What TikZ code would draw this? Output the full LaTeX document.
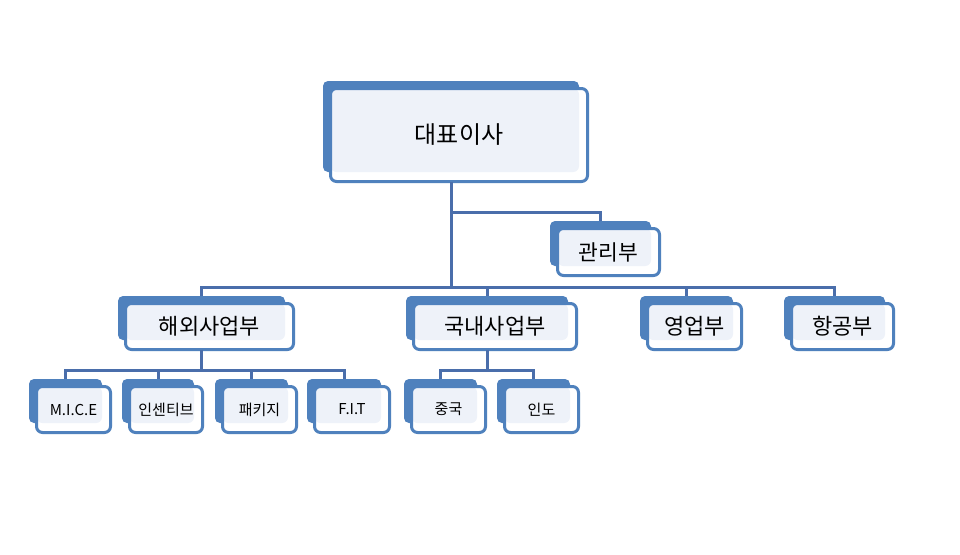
\documentclass[tikz,border=0pt]{standalone}
\usepackage{fontspec}
\setmainfont{Noto Sans CJK KR}
\usetikzlibrary{calc}
\definecolor{backblue}{HTML}{4F81BD}
\definecolor{frameblue}{HTML}{4F81BD}
\definecolor{innerfill}{HTML}{EEF2F9}
\definecolor{linecol}{HTML}{4A6EAB}
\tikzset{
  backbox/.style={fill=backblue, rounded corners=5pt, inner sep=0pt, outer sep=0pt},
  frontbox/.style={draw=frameblue, line width=3pt, fill=white, rounded corners=6pt,
    inner sep=0pt, outer sep=0pt, text=black},
  conn/.style={draw=linecol, line width=3pt},
}
% #1 name, #2 L, #3 T, #4 R, #5 B (front box, px), #6 font size, #7 text
\newcommand\orgbox[7]{%
  \node[backbox, minimum width={(#4-#2-4)*1pt}, minimum height={(#5-#3-5)*1pt}]
    (#1-b) at ({(#2+#4)/2-8},{(#3+#5)/2-8.5}) {};
  \node[frontbox, minimum width={(#4-#2-3)*1pt}, minimum height={(#5-#3-3)*1pt},
    path picture={\fill[innerfill] (path picture bounding box.north west) rectangle (#1-b.south east);},
    font=\fontsize{#6}{#6}\selectfont]
    (#1) at ({(#2+#4)/2},{(#3+#5)/2}) {#7};
}
\begin{document}
\begin{tikzpicture}[x=1pt,y=-1pt]
\useasboundingbox (0,0) rectangle (960,554);
\fill[white] (0,0) rectangle (960,554);
% boxes
\orgbox{ceo}{329}{87}{589}{183}{24}{대표이사}
\orgbox{gwan}{556}{227}{661}{277}{21.5}{관리부}
\orgbox{hae}{124}{302}{295}{351}{22}{해외사업부}
\orgbox{gn}{412}{302}{578}{351}{22}{국내사업부}
\orgbox{yeong}{646}{302}{743}{351}{22}{영업부}
\orgbox{hang}{790}{302}{895}{351}{22}{항공부}
\orgbox{mice}{35}{385}{112}{434}{15}{M.I.C.E}
\orgbox{insen}{128}{385}{204}{434}{15}{인센티브}
\orgbox{pkg}{221}{385}{298}{434}{15}{패키지}
\orgbox{fit}{313}{385}{391}{434}{15}{F.I.T}
\orgbox{jung}{410}{385}{487}{434}{15}{중국}
\orgbox{indo}{503}{385}{580}{434}{15}{인도}
% bus coordinates
\coordinate (busA) at (0,287);
\coordinate (busG) at (0,212);
\coordinate (busH) at (0,370);
% connectors
\draw[conn] (ceo-b.center |- ceo.south) -- (ceo-b.center |- busA);
\draw[conn] (ceo-b.center |- busG) -| (gwan-b.north);
\draw[conn] (hae-b.north) -- (hae-b.north |- busA) -| (hang-b.north);
\draw[conn] (gn-b.north |- busA) -- (gn-b.north);
\draw[conn] (yeong-b.north |- busA) -- (yeong-b.north);
\draw[conn] (hae-b.center |- hae.south) -- (hae-b.center |- busH);
\draw[conn] (mice-b.north) -- (mice-b.north |- busH) -| (fit-b.north);
\draw[conn] (insen-b.north |- busH) -- (insen-b.north);
\draw[conn] (pkg-b.north |- busH) -- (pkg-b.north);
\draw[conn] (gn-b.center |- gn.south) -- (gn-b.center |- busH);
\draw[conn] (jung-b.north) -- (jung-b.north |- busH) -| (indo-b.north);
\end{tikzpicture}
\end{document}
